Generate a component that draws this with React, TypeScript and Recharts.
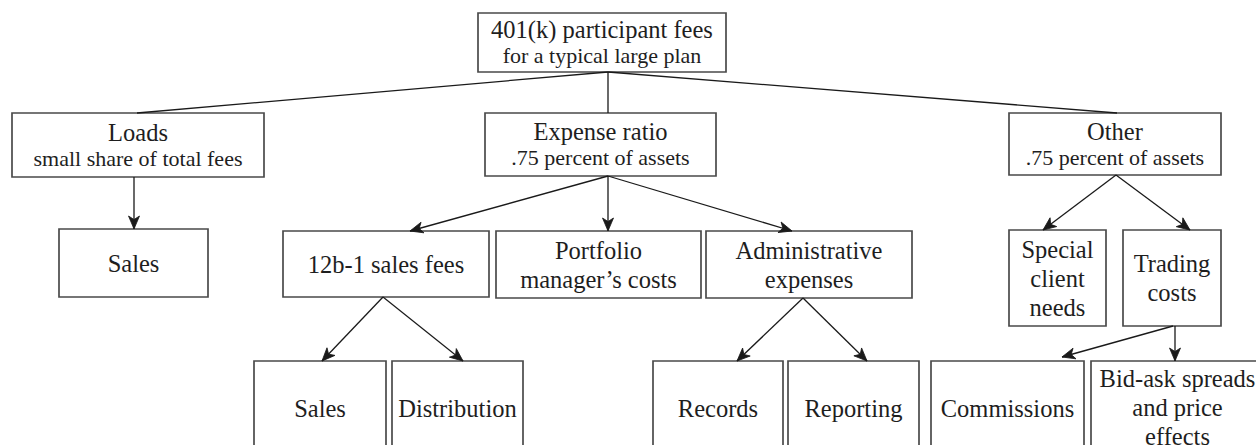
import React from 'react';
import { ScatterChart, Scatter, XAxis, YAxis, ReferenceArea, ReferenceLine } from 'recharts';

// Diagram nodes (diagram units: x across 0..1256, y down 0..445)
type Node = { key: string; x1: number; x2: number; y1: number; y2: number; lines: string[]; sub?: string[] };

const rootNodes: Node[] = [
  { key: 'root', x1: 478, x2: 726, y1: 13, y2: 72, lines: ['401(k) participant fees'], sub: ['for a typical large plan'] },
];

const tierOneNodes: Node[] = [
  { key: 'loads', x1: 12, x2: 264, y1: 113, y2: 177, lines: ['Loads'], sub: ['small share of total fees'] },
  { key: 'expense', x1: 485, x2: 716, y1: 113, y2: 176, lines: ['Expense ratio'], sub: ['.75 percent of assets'] },
  { key: 'other', x1: 1009, x2: 1221, y1: 113, y2: 175, lines: ['Other'], sub: ['.75 percent of assets'] },
];

const tierTwoNodes: Node[] = [
  { key: 'loadSales', x1: 59, x2: 208, y1: 229, y2: 297, lines: ['Sales'] },
  { key: '12b1', x1: 283, x2: 489, y1: 231, y2: 297, lines: ['12b-1 sales fees'] },
  { key: 'portfolio', x1: 496, x2: 701, y1: 231, y2: 298, lines: ['Portfolio', 'manager\u2019s costs'] },
  { key: 'admin', x1: 706, x2: 912, y1: 231, y2: 298, lines: ['Administrative', 'expenses'] },
  { key: 'special', x1: 1009, x2: 1106, y1: 230, y2: 326, lines: ['Special', 'client', 'needs'] },
  { key: 'trading', x1: 1123, x2: 1221, y1: 230, y2: 326, lines: ['Trading', 'costs'] },
];

const tierThreeNodes: Node[] = [
  { key: 'sales2', x1: 254, x2: 386, y1: 361, y2: 455, lines: ['Sales'] },
  { key: 'distribution', x1: 392, x2: 523, y1: 361, y2: 455, lines: ['Distribution'] },
  { key: 'records', x1: 653, x2: 783, y1: 361, y2: 455, lines: ['Records'] },
  { key: 'reporting', x1: 788, x2: 919, y1: 361, y2: 455, lines: ['Reporting'] },
  { key: 'commissions', x1: 931, x2: 1084, y1: 361, y2: 455, lines: ['Commissions'] },
  { key: 'bidask', x1: 1091, x2: 1264, y1: 361, y2: 453, lines: ['Bid-ask spreads', 'and price', 'effects'] },
];

// Connectors: [fromX, fromY, toX, toY, arrow]
type Edge = [number, number, number, number, boolean];

const rootEdges: Edge[] = [
  [608, 72, 137, 113, false],
  [608, 72, 608, 113, false],
  [608, 72, 1117, 113, false],
];

const tierOneEdges: Edge[] = [
  [134, 177, 134, 229, true],
  [608, 176, 410, 231, true],
  [608, 176, 608, 231, true],
  [608, 176, 792, 231, true],
  [1116, 175, 1043, 230, true],
  [1116, 175, 1190, 230, true],
];

const tierTwoEdges: Edge[] = [
  [383, 297, 322, 361, true],
  [383, 297, 463, 361, true],
  [803, 298, 737, 361, true],
  [803, 298, 867, 361, true],
  [1173, 326, 1062, 357, true],
  [1175, 326, 1175, 361, true],
];

const allNodes = [...rootNodes, ...tierOneNodes, ...tierTwoNodes, ...tierThreeNodes];
const allEdges = [...rootEdges, ...tierOneEdges, ...tierTwoEdges];

const arrowPoints = allEdges
  .filter((e) => e[4])
  .map((e) => ({ x: e[2], y: e[3], angle: (Math.atan2(e[3] - e[1], e[2] - e[0]) * 180) / Math.PI }));

const FONT = "'Liberation Serif', 'DejaVu Serif', serif";
const TEXT = '#1e1e1e';

const makeLabel = (node: Node) => (props: any) => {
  const vb = props.viewBox || {};
  const cx = vb.x + vb.width / 2;
  const cy = vb.y + vb.height / 2;
  const sub = node.sub || [];
  const items: { t: string; size: number }[] = [
    ...node.lines.map((t) => ({ t, size: 24.5 })),
    ...sub.map((t) => ({ t, size: 22 })),
  ];
  const gap = sub.length ? 26 : 29;
  const start = cy - ((items.length - 1) * gap) / 2;
  return (
    <g>
      {items.map((it, i) => (
        <text
          key={i}
          x={cx}
          y={start + i * gap}
          textAnchor="middle"
          dominantBaseline="central"
          fontFamily={FONT}
          fontSize={it.size}
          fill={TEXT}
          style={{ fontFamily: FONT }}
        >
          {it.t}
        </text>
      ))}
    </g>
  );
};

const ArrowShape = (props: any) => {
  const { cx, cy, payload } = props;
  return (
    <path
      d="M0,0 L-13,-5.5 L-9.5,0 L-13,5.5 Z"
      transform={`translate(${cx},${cy}) rotate(${payload.angle})`}
      fill="#1a1a1a"
      stroke="#1a1a1a"
      strokeWidth={0.8}
      strokeLinejoin="miter"
    />
  );
};

export default function App() {
  return (
    <div style={{ position: 'absolute', left: 0, top: 0, width: 1256, height: 445, background: '#fff', fontFamily: FONT }}>
      <ScatterChart width={1256} height={445} margin={{ top: 0, right: 0, bottom: 0, left: 0 }}>
        <XAxis type="number" dataKey="x" domain={[0, 1256]} allowDataOverflow hide />
        <YAxis type="number" dataKey="y" domain={[0, 445]} allowDataOverflow reversed hide />
        {allEdges.map((e, i) => (
          <ReferenceLine
            key={'e' + i}
            segment={[{ x: e[0], y: e[1] }, { x: e[2], y: e[3] }]}
            stroke="#1a1a1a"
            strokeWidth={1.3}
            ifOverflow="visible"
          />
        ))}
        {allNodes.map((n) => (
          <ReferenceArea
            key={n.key}
            x1={n.x1}
            x2={n.x2}
            y1={n.y1}
            y2={n.y2}
            fill="#ffffff"
            fillOpacity={1}
            stroke="#4a4a4a"
            strokeWidth={1.7}
            ifOverflow="hidden"
            label={makeLabel(n)}
          />
        ))}
        <Scatter data={arrowPoints} shape={ArrowShape} isAnimationActive={false} />
      </ScatterChart>
    </div>
  );
}
